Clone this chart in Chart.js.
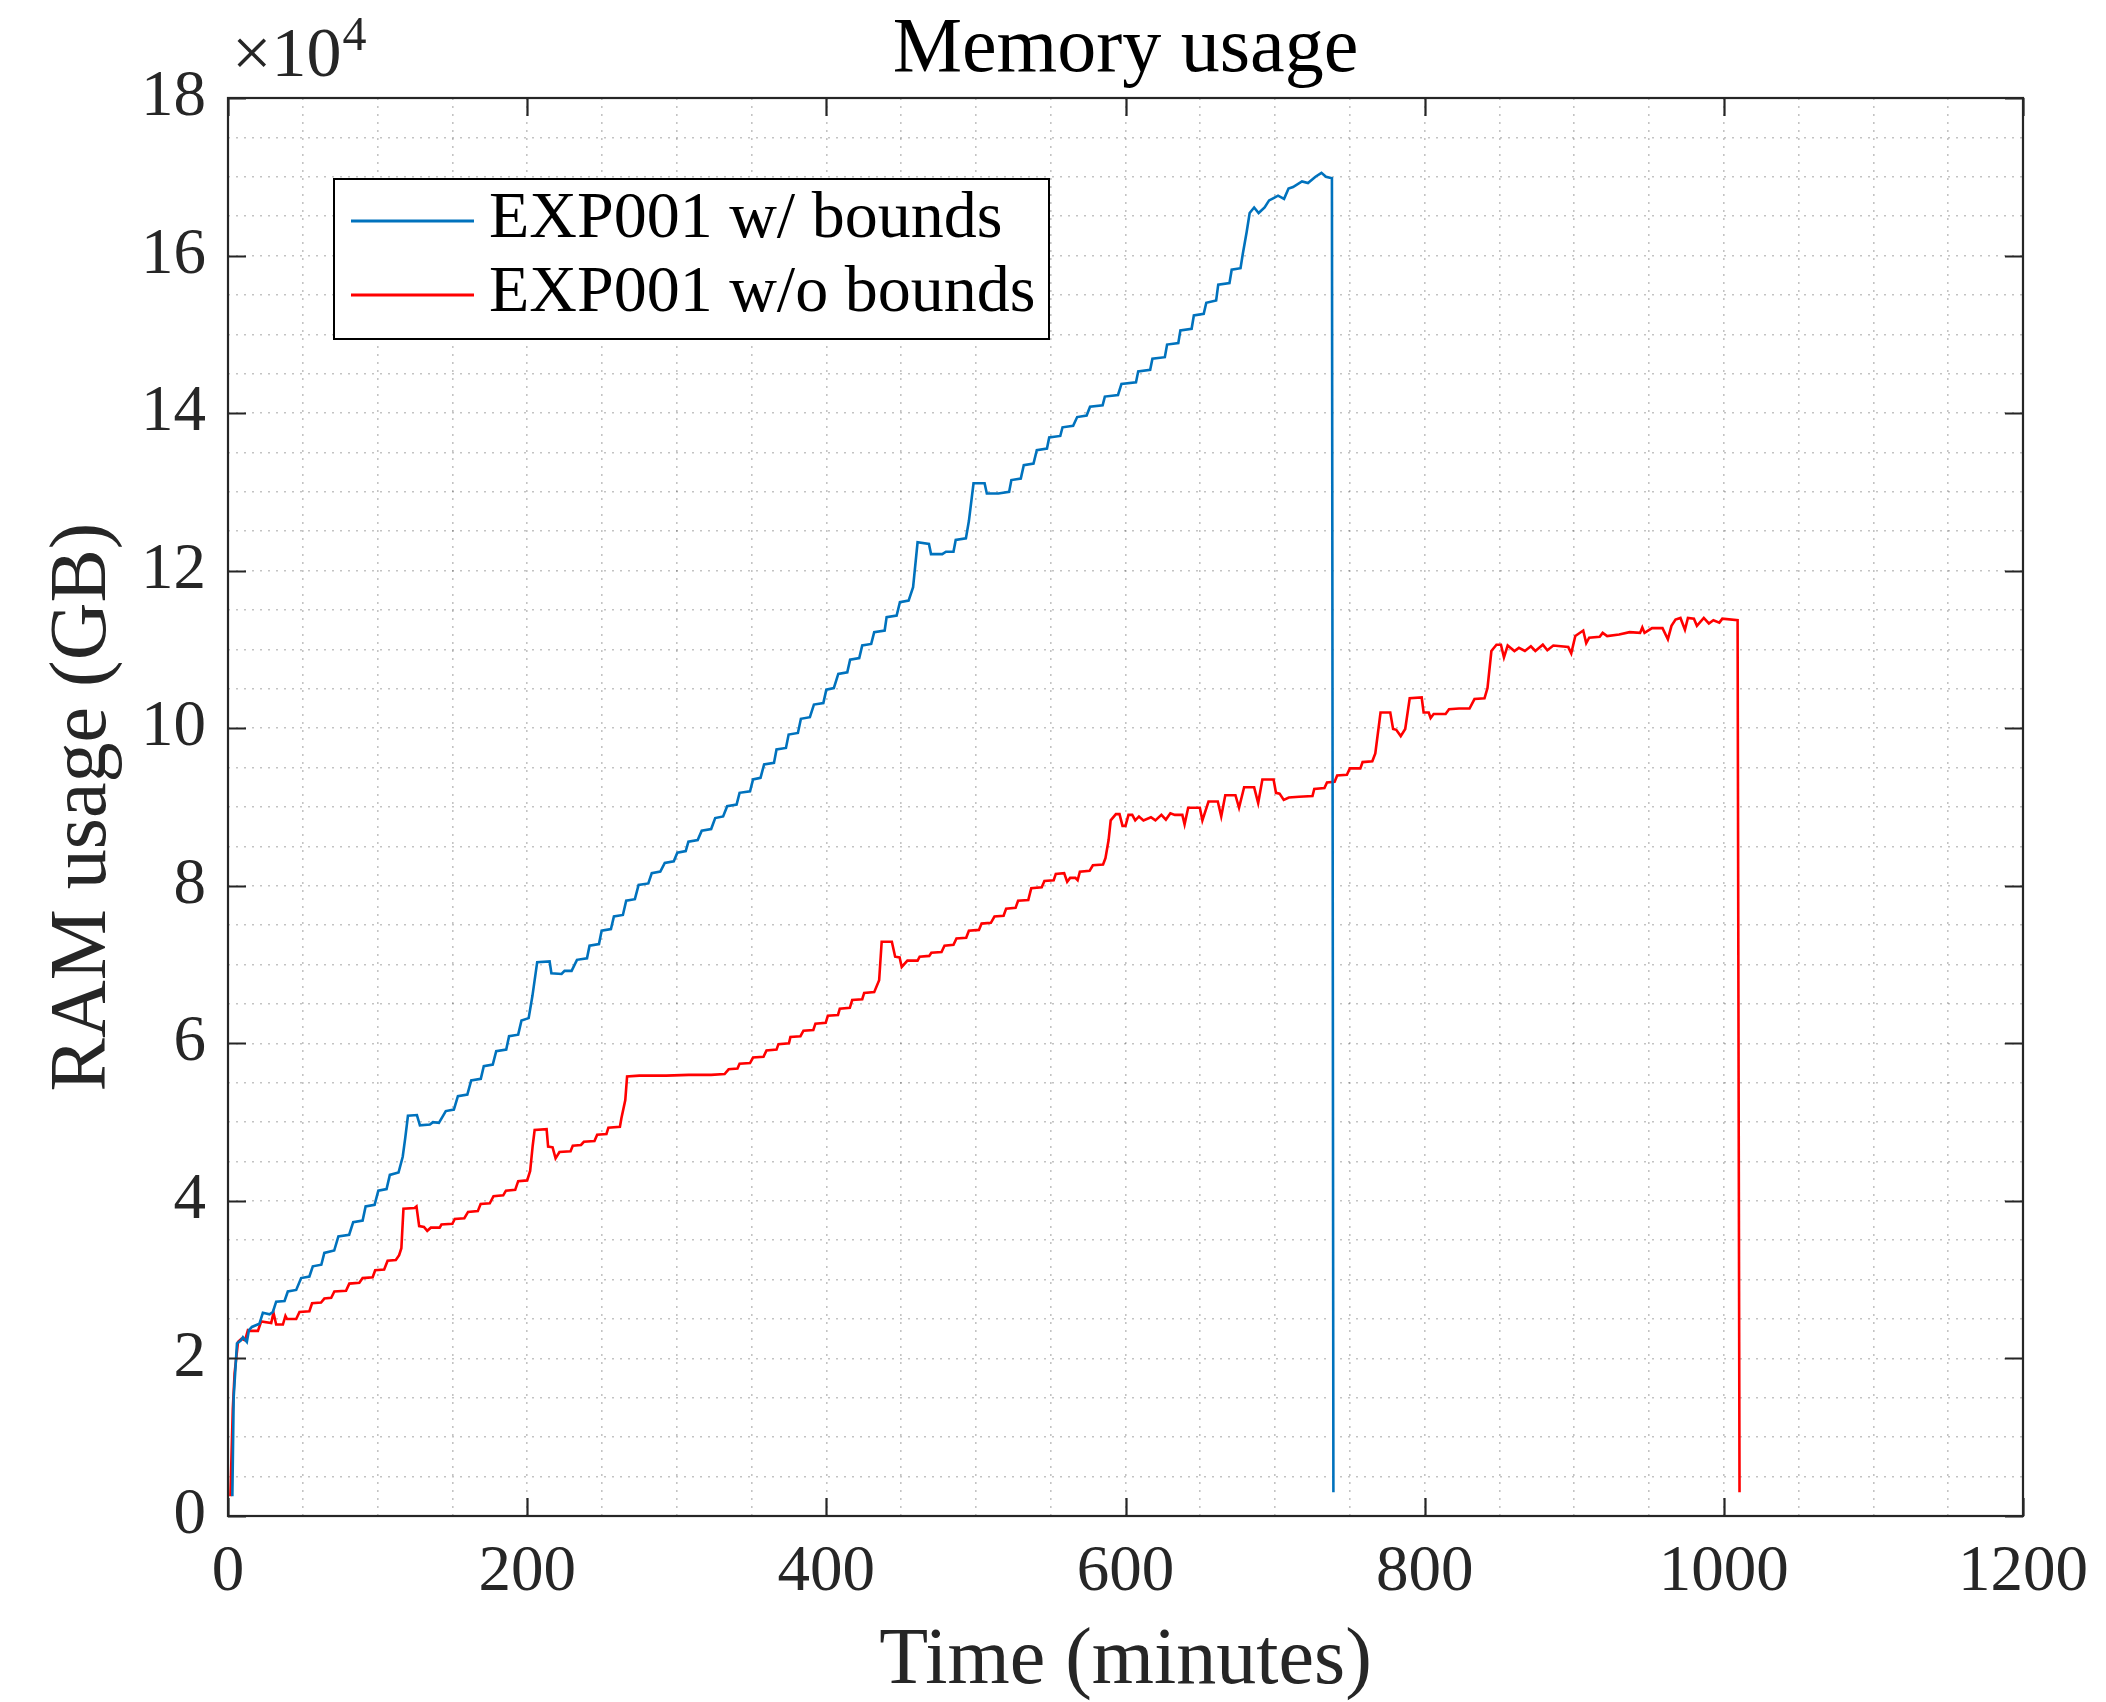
<!DOCTYPE html>
<html>
<head>
<meta charset="utf-8">
<title>Memory usage</title>
<script src="https://cdn.jsdelivr.net/npm/chart.js@4.4.1/dist/chart.umd.min.js"></script>
<style>
  html, body { margin: 0; padding: 0; background: #ffffff; }
  #wrap { width: 2106px; height: 1702px; position: relative; }
</style>
</head>
<body>
<div id="wrap"><canvas id="chart" width="2106" height="1702"></canvas></div>
<script>
// --- data: [time (minutes), RAM usage] ---
const chartTitle = 'Memory usage';
const xLabel = 'Time (minutes)';
const yLabel = 'RAM usage (GB)';
const seriesNames = ['EXP001 w/ bounds', 'EXP001 w/o bounds'];
const seriesColors = ['#0072BD', '#FF0000'];

const xTickValues = [0, 200, 400, 600, 800, 1000, 1200];
const yTickValues = [0, 20000, 40000, 60000, 80000, 100000, 120000, 140000, 160000, 180000];

const withBounds = [
  [2.9,2500],[3.8,15100],[6,21900],[8.7,22300],[10,22700],[12.6,22100],[14,23600],[16,24000],[21,24400],[23.3,25800],
  [27.8,25600],[30,25900],[32.2,27200],[37.8,27300],[40,28500],[45.6,28700],[48.9,30200],[54.4,30400],[56.7,31700],[62.4,31900],
  [64.4,33400],[71,33700],[73.8,35500],[81,35700],[83.7,37300],[90,37500],[92,39300],[98,39500],[100.5,41300],[106,41500],
  [108.2,43300],[114,43600],[116.8,45600],[118.5,48000],[120.3,50800],[126.3,50900],[128.3,49600],[135,49700],[137,50000],[141,49900],
  [145.6,51400],[151,51600],[153.7,53300],[160,53500],[162.6,55300],[169,55500],[171,57100],[177,57300],[179.3,59000],[186,59200],
  [187.9,60900],[194,61100],[196.2,62900],[201,63200],[203.5,66000],[206.7,70300],[215,70400],[216.2,68900],[223,68800],[225,69200],
  [229.7,69200],[233.3,70600],[240,70800],[241.7,72400],[248,72600],[249.8,74300],[256,74500],[258,76100],[264,76300],[266.2,78100],
  [272,78300],[274.5,80100],[281,80300],[283.3,81600],[289,81800],[292,82900],[298,83100],[300.4,84200],[306,84400],[307.8,85600],
  [314,85800],[316.7,87000],[323,87200],[325.7,88600],[331,88800],[333.7,90100],[340,90300],[342,91800],[349,92000],[351,93500],
  [356,93700],[358.4,95400],[365,95600],[366.7,97300],[373,97500],[374.8,99200],[381,99400],[383,101200],[389,101400],[391.7,103000],
  [398,103200],[400,104900],[405,105100],[408,106900],[414,107100],[415.9,108700],[422,108900],[424,110500],[430,110700],[432,112200],
  [439,112400],[440.3,114100],[447,114300],[449.2,116000],[455,116200],[458,117900],[461,123600],[468.6,123400],[470,122100],[477.5,122100],
  [480,122400],[485,122400],[486.5,123900],[493.3,124100],[495.3,126300],[498.4,131100],[505.8,131100],[507.3,129800],[515,129800],[522.2,130000],
  [523.7,131500],[530,131700],[532,133400],[538.5,133600],[540.7,135300],[547.5,135500],[549,136900],[556.4,137100],[557.9,138200],[565,138400],
  [567.7,139500],[574,139700],[576.3,140800],[584.7,141000],[586.2,142100],[595,142300],[597.3,143700],[607,143900],[608.5,145300],[616.5,145500],
  [618,146900],[626.3,147100],[627.8,148700],[635.3,148900],[636.7,150500],[644.2,150700],[645.7,152400],[652.3,152600],[654,154000],[660.6,154300],
  [662,156300],[669.5,156500],[671,158200],[676.9,158400],[678.4,160200],[681,163000],[683,165400],[686,166100],[689,165400],[693,166100],
  [696,167000],[699,167300],[702,167600],[706,167200],[709,168500],[712,168700],[718,169400],[722,169200],[727,170000],[731,170500],
  [734,170000],[738,169800],[739,3000]
];

const withoutBounds = [
  [1.6,2500],[3.2,13500],[4.4,18100],[6.7,22100],[9,22500],[11.4,22300],[13.3,23600],[15,23500],[20,23500],[22.2,24700],
  [28.9,24500],[30.4,25800],[32.2,24300],[36.7,24300],[38.4,25400],[39.5,25000],[45.6,25000],[47.8,25900],[54.4,26000],[56.2,27000],
  [62.2,27100],[64.4,27600],[69,27700],[71.1,28500],[78.9,28600],[81.1,29500],[87.8,29600],[90,30200],[96.7,30300],[98.4,31200],
  [104.4,31300],[106.7,32400],[112.2,32500],[114.4,33100],[115.9,34000],[117.3,39000],[124.7,39100],[126,39300],[127.8,36800],[131,36700],
  [133.2,36200],[135.6,36600],[141.5,36600],[142.7,37000],[150,37100],[151.6,37700],[158,37800],[160.5,38600],[167,38700],[168.9,39600],
  [175,39700],[177.5,40600],[184,40700],[185.8,41300],[192,41400],[194,42500],[200,42600],[202,43800],[203.7,47000],[205,49000],
  [213,49100],[214,46900],[217,46800],[219,45400],[221.6,46200],[229,46300],[230.5,47000],[236,47100],[237.9,47500],[245,47600],
  [246.8,48400],[253,48500],[254.3,49300],[262,49400],[263,50500],[265.6,52800],[266.8,55800],[275,55900],[293,55900],[308,56000],
  [323,56000],[332,56100],[334.7,56700],[340.6,56800],[342,57400],[349,57500],[351,58200],[358,58300],[360,59100],[366.7,59200],
  [368,59900],[375,60000],[376,60800],[382.7,60900],[384.7,61600],[391.3,61700],[392.7,62500],[399.6,62600],[401,63500],[407.8,63600],
  [409,64400],[415.7,64500],[417.3,65500],[424,65600],[425.3,66400],[432,66500],[435.3,68000],[437,72900],[443.8,72900],[446,71000],
  [449,70900],[450.4,69700],[454.2,70500],[461,70500],[462.4,71000],[468.8,71100],[470.2,71500],[477,71600],[479,72400],[485,72500],
  [487,73300],[493.5,73400],[495.3,74300],[502,74400],[503.8,75200],[510,75300],[512.4,76100],[518.5,76200],[520.2,77100],[526.5,77200],
  [528.2,78100],[535,78200],[537,79700],[544,79800],[545.8,80600],[552,80700],[553.4,81500],[559,81600],[561,80500],[563,81000],
  [566.5,81000],[568,80700],[569.5,81800],[576,81900],[578.2,82600],[585,82700],[586.6,83500],[588.7,85800],[590.1,88300],[593.6,89100],
  [596,89100],[598,87600],[600,87600],[602,89000],[604.5,89000],[606.5,88300],[609,88800],[612,88300],[617,88700],[620,88300],
  [624,89000],[627,88400],[630,89200],[633,89000],[638,89000],[639.5,87800],[641.9,89900],[649.7,89900],[651.4,88300],[655.5,90700],
  [661.7,90700],[664,88800],[666.7,91500],[673.5,91500],[675.9,89900],[679.3,92500],[686,92500],[688.7,90500],[691.5,93500],[699,93500],
  [700.6,91800],[703,91700],[705.8,90900],[709.2,91200],[716,91300],[725,91400],[726.2,92300],[733,92400],[734.7,93100],[739.8,93200],
  [741.5,94000],[748,94100],[750,94900],[757,94900],[758.5,95700],[765,95800],[767,96800],[770.5,102000],[777,102000],[778.9,99900],
  [781,99800],[784,99000],[787,99900],[790,103800],[798,103900],[799.3,102000],[802.7,102000],[804,101300],[806,101800],[814,101800],
  [816.3,102400],[823,102500],[830,102500],[833.3,103700],[840,103800],[842,105100],[844.6,109800],[848,110600],[851,110600],[853,109000],
  [855.5,110500],[860,109800],[863,110200],[867,109800],[871,110400],[874,109800],[879,110600],[882,109900],[886,110500],[896,110300],
  [898,109500],[900.7,111700],[906,112400],[908,110800],[910,111500],[917,111600],[919,112100],[922,111700],[930,111900],[937,112200],
  [944,112100],[945.5,112800],[947,112100],[952,112700],[959,112700],[962.6,111300],[965,113000],[967.7,113800],[971,114000],[974,112500],
  [976,114000],[980,113900],[982,113000],[986.6,114000],[990,113300],[993,113700],[997,113400],[999,113900],[1009.2,113700],[1010.5,3000]
];

// --- styling ---
const AXIS = '#262626';
const GRID = 'rgba(38,38,38,0.28)';
const SERIF = "'Liberation Serif', 'DejaVu Serif', serif";

const toPoints = arr => arr.map(p => ({ x: p[0], y: p[1] }));

// box, inward ticks, title, exponent and legend, drawn like a MATLAB figure
const matlabFrame = {
  id: 'matlabFrame',
  afterDraw(chart) {
    const ctx = chart.ctx;
    const a = chart.chartArea;
    const xs = chart.scales.x;
    const ys = chart.scales.y;
    const tick = 18;

    ctx.save();
    ctx.strokeStyle = AXIS;
    ctx.lineWidth = 2.2;
    ctx.strokeRect(a.left, a.top, a.right - a.left, a.bottom - a.top);

    ctx.beginPath();
    xTickValues.forEach(v => {
      const px = Math.round(xs.getPixelForValue(v)) + 0.5;
      ctx.moveTo(px, a.bottom); ctx.lineTo(px, a.bottom - tick);
      ctx.moveTo(px, a.top); ctx.lineTo(px, a.top + tick);
    });
    yTickValues.forEach(v => {
      const py = Math.round(ys.getPixelForValue(v)) + 0.5;
      ctx.moveTo(a.left, py); ctx.lineTo(a.left + tick, py);
      ctx.moveTo(a.right, py); ctx.lineTo(a.right - tick, py);
    });
    ctx.stroke();

    // title
    ctx.fillStyle = '#000000';
    ctx.textAlign = 'center';
    ctx.textBaseline = 'alphabetic';
    ctx.font = '78px ' + SERIF;
    ctx.fillText(chartTitle, (a.left + a.right) / 2, 71);

    // exponent above the y axis
    ctx.fillStyle = AXIS;
    ctx.textAlign = 'left';
    ctx.font = '70px ' + SERIF;
    ctx.fillText('\u00d710', 232, 76);
    const w = ctx.measureText('\u00d710').width;
    ctx.font = '48px ' + SERIF;
    ctx.fillText('4', 232 + w + 1, 50);

    // legend
    const lx = 334, ly = 179, lw = 715, lh = 160;
    ctx.fillStyle = '#ffffff';
    ctx.fillRect(lx, ly, lw, lh);
    ctx.strokeStyle = '#000000';
    ctx.lineWidth = 2;
    ctx.strokeRect(lx, ly, lw, lh);
    const rows = [221, 295];
    chart.data.datasets.forEach((ds, i) => {
      ctx.strokeStyle = ds.borderColor;
      ctx.lineWidth = 3;
      ctx.beginPath();
      ctx.moveTo(351, rows[i]);
      ctx.lineTo(474, rows[i]);
      ctx.stroke();
      ctx.fillStyle = '#000000';
      ctx.font = '66px ' + SERIF;
      ctx.textBaseline = 'alphabetic';
      ctx.fillText(ds.label, 489, rows[i] + 16);
    });
    ctx.restore();
  }
};

const ctx = document.getElementById('chart').getContext('2d');
new Chart(ctx, {
  type: 'line',
  data: {
    datasets: [
      {
        label: seriesNames[0],
        data: toPoints(withBounds),
        borderColor: seriesColors[0],
        backgroundColor: seriesColors[0],
        borderWidth: 2.6,
        pointRadius: 0,
        tension: 0,
        fill: false
      },
      {
        label: seriesNames[1],
        data: toPoints(withoutBounds),
        borderColor: seriesColors[1],
        backgroundColor: seriesColors[1],
        borderWidth: 2.6,
        pointRadius: 0,
        tension: 0,
        fill: false
      }
    ]
  },
  options: {
    responsive: false,
    animation: false,
    events: [],
    layout: { padding: { top: 98, right: 77, bottom: 0, left: 0 } },
    plugins: {
      legend: { display: false },
      title: { display: false },
      tooltip: { enabled: false }
    },
    scales: {
      x: {
        type: 'linear',
        min: 0,
        max: 1200,
        afterFit: scale => { scale.height = 186; },
        grid: { color: GRID, lineWidth: 1.6, drawTicks: false },
        border: { display: false, dash: [2, 6] },
        ticks: {
          stepSize: 50,
          autoSkip: false,
          maxRotation: 0,
          padding: 18,
          color: AXIS,
          font: { family: SERIF, size: 65 },
          callback: v => xTickValues.includes(v) ? String(v) : ''
        },
        title: {
          display: true,
          text: xLabel,
          color: AXIS,
          font: { family: SERIF, size: 80, lineHeight: 1 },
          padding: { top: 0, bottom: 0 }
        }
      },
      y: {
        type: 'linear',
        min: 0,
        max: 180000,
        afterFit: scale => { scale.width = 228; },
        grid: { color: GRID, lineWidth: 1.6, drawTicks: false },
        border: { display: false, dash: [2, 6] },
        ticks: {
          stepSize: 5000,
          autoSkip: false,
          padding: 22,
          color: AXIS,
          font: { family: SERIF, size: 65 },
          callback: v => yTickValues.includes(v) ? String(v / 10000) : ''
        },
        title: {
          display: true,
          text: yLabel,
          color: AXIS,
          font: { family: SERIF, size: 80, lineHeight: 1 },
          padding: { top: 44, bottom: 0 }
        }
      }
    }
  },
  plugins: [matlabFrame]
});
</script>
</body>
</html>
